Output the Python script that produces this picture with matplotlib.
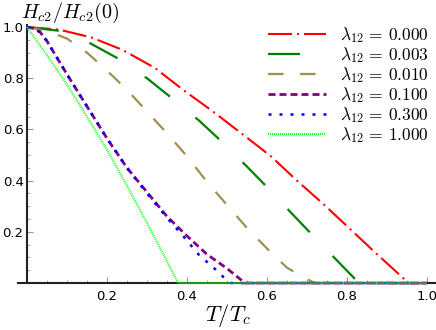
import numpy as np
import matplotlib
matplotlib.use("Agg")
import matplotlib.pyplot as plt

plt.rcParams['mathtext.fontset'] = 'cm'
plt.rcParams['lines.scale_dashes'] = False

# T/Tc and Hc2/Hc2(0) for each lambda_12
x_000 = [0, 0.08, 0.16, 0.24, 0.32, 0.39, 0.465, 0.54, 0.61, 0.675, 0.74, 0.805, 0.87, 0.94, 0.955, 1.0]
y_000 = [1, 0.99, 0.96, 0.91, 0.84, 0.755, 0.67, 0.58, 0.495, 0.40, 0.31, 0.215, 0.12, 0.02, 0, 0]

x_003 = [0, 0.083, 0.16, 0.23, 0.30, 0.36, 0.43, 0.485, 0.55, 0.60, 0.66, 0.72, 0.78, 0.83, 1.0]
y_003 = [1, 0.985, 0.935, 0.875, 0.80, 0.725, 0.635, 0.555, 0.455, 0.375, 0.275, 0.177, 0.08, 0, 0]

x_010 = [0, 0.05, 0.1, 0.15, 0.2, 0.25, 0.3, 0.35, 0.4, 0.45, 0.5, 0.55, 0.6, 0.65, 0.7, 0.72, 1.0]
y_010 = [1, 0.985, 0.955, 0.90, 0.83, 0.755, 0.67, 0.585, 0.495, 0.395, 0.305, 0.215, 0.135, 0.06, 0.015, 0, 0]

x_100 = [0, 0.015, 0.033, 0.05, 0.1, 0.15, 0.2, 0.25, 0.3, 0.35, 0.4, 0.45, 0.5, 0.545, 1.0]
y_100 = [1, 0.995, 0.98, 0.945, 0.815, 0.69, 0.565, 0.45, 0.355, 0.26, 0.184, 0.112, 0.057, 0, 0]

x_300 = [0, 0.015, 0.033, 0.05, 0.1, 0.15, 0.2, 0.25, 0.3, 0.35, 0.395, 0.43, 0.47, 0.49, 0.51, 1.0]
y_300 = [1, 0.995, 0.98, 0.945, 0.815, 0.69, 0.565, 0.45, 0.35, 0.255, 0.175, 0.11, 0.055, 0.025, 0, 0]

x_1000 = [0, 0.05, 0.1, 0.15, 0.2, 0.25, 0.3, 0.35, 0.378, 1.0]
y_1000 = [1, 0.89, 0.775, 0.65, 0.52, 0.38, 0.235, 0.085, 0, 0]

labels = ['0.000', '0.003', '0.010', '0.100', '0.300', '1.000']
colors = ['#ff0000', '#008000', '#a09050', '#800080', '#0000ff', '#22ff22']

fig = plt.figure(figsize=(4.36, 3.3), dpi=100)
ax = fig.add_axes([18/436, 0.1345, 418/436, 0.7897])

px = 0.72  # points per pixel
curves = [
    (x_000, y_000, 1.5, (0, (24*px, 5*px, 2*px, 5*px))),
    (x_003, y_003, 1.6, (0, (32*px, 33*px))),
    (x_010, y_010, 1.6, (0, (15.5*px, 16.5*px))),
    (x_100, y_100, 2.0, (0, (7*px, 4*px))),
    (x_300, y_300, 1.8, (0, (3*px, 8*px))),
    (x_1000, y_1000, 1.5, (0, (1*px, 1*px))),
]
for (xs, ys, lw, ls), lab, c in zip(curves, labels, colors):
    ax.plot(xs, ys, color=c, lw=lw, linestyle=ls, dash_capstyle='butt',
            label=r'$\lambda_{12}\,=\,%s$' % lab, zorder=3, clip_on=False)

ax.set_xlim(-0.0225, 1.0225)
ax.set_ylim(-0.01, 1.008)

for s in ['top', 'right']:
    ax.spines[s].set_visible(False)
ax.spines['left'].set_position(('data', 0))
ax.spines['bottom'].set_position(('data', 0))
ax.spines['left'].set_bounds(0, 1.008)
for s in ['left', 'bottom']:
    ax.spines[s].set_linewidth(1.5)
    ax.spines[s].set_color('#222222')

ax.set_xticks([0.2, 0.4, 0.6, 0.8, 1.0])
ax.set_yticks([0.2, 0.4, 0.6, 0.8, 1.0])
ax.set_xticks(np.arange(0.05, 1.01, 0.05), minor=True)
ax.set_yticks(np.arange(0.05, 1.01, 0.05), minor=True)
ax.tick_params(which='both', direction='in', color='#999999', labelsize=9.5)
ax.tick_params(which='major', length=4, width=0.8)
ax.tick_params(which='minor', length=2.5, width=0.6)
ax.tick_params(axis='x', pad=5)
ax.tick_params(axis='y', pad=2.5)

fig.text(0.16, 0.962, r'$H_{c2}/H_{c2}(0)$', fontsize=14.5, ha='center', va='center')
fig.text(0.523, 0.045, r'$T/T_c$', fontsize=16, ha='center', va='center')

ax.legend(loc='upper left', bbox_to_anchor=(268/436, 1 - 25/330),
          bbox_transform=fig.transFigure, frameon=False, fontsize=12.5,
          handlelength=3.35, handletextpad=0.8, borderpad=0, borderaxespad=0,
          labelspacing=0.0)

fig.savefig('out.png', dpi=100)
